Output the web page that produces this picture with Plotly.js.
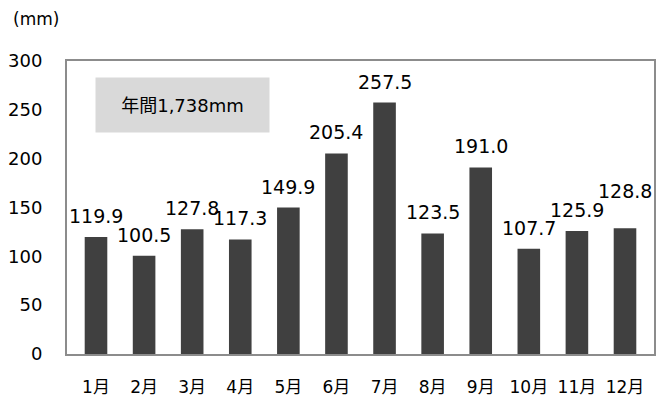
<!DOCTYPE html>
<html>
<head>
<meta charset="utf-8">
<script src="https://cdn.plot.ly/plotly-3.0.1.min.js"></script>
<style>html,body{margin:0;padding:0;background:#fff;}#chart{width:666px;height:399px;}</style>
</head>
<body>
<div id="chart"></div>
<script>
var months = ["1月","2月","3月","4月","5月","6月","7月","8月","9月","10月","11月","12月"];
var rainfall = [119.9,100.5,127.8,117.3,149.9,205.4,257.5,123.5,191.0,107.7,125.9,128.8];
var yTicks = [0,50,100,150,200,250,300];
var unitLabel = "(mm)";
var totalLabel = "年間1,738mm";

var FONT = '"DejaVu Sans", "Noto Sans CJK JP", sans-serif';

var trace = {
  type: 'bar',
  x: months,
  y: rainfall,
  marker: {color: '#404040'},
  hoverinfo: 'x+y'
};

var labelAnns = months.map(function(m, i){
  // last label sits higher so it clears its neighbour, as in the reference
  var shift = (i === months.length - 1) ? 24 : 8;
  return {
    x: m, y: rainfall[i], xref: 'x', yref: 'y',
    text: rainfall[i].toFixed(1),
    showarrow: false, yanchor: 'bottom', yshift: shift,
    font: {family: FONT, size: 19, color: '#000'}
  };
});

var layout = {
  width: 666, height: 399,
  margin: {l: 67, r: 12, t: 61, b: 45},
  paper_bgcolor: '#fff', plot_bgcolor: '#fff',
  bargap: 0.53,
  showlegend: false,
  font: {family: FONT, size: 17, color: '#000'},
  xaxis: {
    type: 'category',
    showline: true, mirror: true, linecolor: '#8c8c8c', linewidth: 2,
    ticks: '', ticklabelstandoff: 17,
    tickfont: {family: FONT, size: 17, color: '#000'},
    showgrid: false, zeroline: false, fixedrange: true
  },
  yaxis: {
    range: [0, 300],
    tickvals: yTicks,
    ticktext: yTicks.map(String),
    showline: true, mirror: true, linecolor: '#8c8c8c', linewidth: 2,
    ticks: '', ticklabelstandoff: 19,
    tickfont: {family: FONT, size: 18, color: '#000'},
    showgrid: false, zeroline: false, fixedrange: true
  },
  annotations: labelAnns.concat([
    {
      xref: 'paper', yref: 'paper', x: -0.052, y: 1.143,
      xanchor: 'center', yanchor: 'middle',
      text: unitLabel, showarrow: false,
      font: {family: FONT, size: 17, color: '#000'}
    },
    {
      xref: 'paper', yref: 'paper', x: 0.196, y: 0.85,
      xanchor: 'center', yanchor: 'middle',
      text: totalLabel, showarrow: false,
      bgcolor: '#d9d9d9', width: 171, height: 52,
      font: {family: FONT, size: 18, color: '#000'}
    }
  ])
};

Plotly.newPlot('chart', [trace], layout, {displayModeBar: false, staticPlot: true});
</script>
</body>
</html>
